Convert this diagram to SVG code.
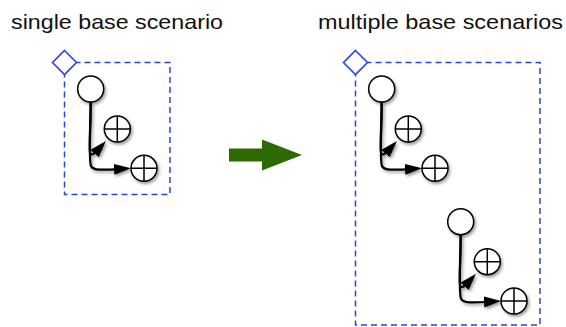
<svg xmlns="http://www.w3.org/2000/svg" width="566" height="327" viewBox="0 0 566 327">
  <style>
    .title { font-family: "Liberation Sans", Arial, sans-serif; font-size: 21px; fill: #111; }
    .frame { fill: none; stroke: #2a44e2; stroke-width: 1.5; stroke-dasharray: 6 4; }
    .diamond { fill: #fff; stroke: #2a44e2; stroke-width: 1.6; }
    .node { fill: #fff; stroke: #000; stroke-width: 1.5; }
    .cross { stroke: #000; stroke-width: 1.5; fill: none; }
    .edge { fill: none; stroke: #000; stroke-width: 2.2; }
  </style>
  <defs>
    <filter id="shadow" x="-30%" y="-30%" width="170%" height="170%">
      <feDropShadow dx="1.5" dy="2" stdDeviation="1.5" flood-color="#000" flood-opacity="0.4"/>
    </filter>
    <marker id="arrow" markerUnits="userSpaceOnUse" markerWidth="20" markerHeight="14" refX="13" refY="5.5" orient="auto">
      <path d="M0,0 L17,5.5 L0,11 z" fill="#000"/>
    </marker>
  </defs>

  <text class="title" x="11" y="29" textLength="212" lengthAdjust="spacingAndGlyphs">single base scenario</text>
  <text class="title" x="318" y="29" textLength="245" lengthAdjust="spacingAndGlyphs">multiple base scenarios</text>

  <!-- frames -->
  <g id="frame-single">
    <rect class="frame" x="64.5" y="62.5" width="105.5" height="132"/>
    <polygon class="diamond" points="64.5,50.5 76.5,62.5 64.5,74.5 52.5,62.5"/>
  </g>
  <g id="frame-multiple">
    <rect class="frame" x="355.5" y="62.5" width="184.5" height="262.5"/>
    <polygon class="diamond" points="355.5,50.5 367.5,62.5 355.5,74.5 343.5,62.5"/>
  </g>

  <!-- big arrow -->
  <g id="transform-arrow">
    <polygon points="229,148.5 262,148.5 262,139.5 302,155 262,170.5 262,161.5 229,161.5" fill="#2e6a03"/>
  </g>

  <!-- connectors -->
  <g id="connectors" filter="url(#shadow)">
    <path class="edge" marker-end="url(#arrow)" d="M90.7,102 C90.6,125 89,146 90,152 C91,158 96,152 103.3,144"/>
    <path class="edge" marker-end="url(#arrow)" d="M90.7,102 C90.6,130 88.5,160 91,166 C93,171 103,170 127,168.5"/>
    <path class="edge" marker-end="url(#arrow)" d="M381.7,102 C381.6,125 380,146 381,152 C382,158 387,152 394.3,144"/>
    <path class="edge" marker-end="url(#arrow)" d="M381.7,102 C381.6,130 379.5,160 382,166 C384,171 394,170 418,168.5"/>
    <path class="edge" marker-end="url(#arrow)" d="M460.7,234.7 C460.6,257.7 459,278.7 460,284.7 C461,290.7 466,284.7 473.3,276.7"/>
    <path class="edge" marker-end="url(#arrow)" d="M460.7,234.7 C460.6,262.7 458.5,292.7 461,298.7 C463,303.7 473,302.7 497,301.2"/>
  </g>

  <!-- nodes: single -->
  <g id="s-start" filter="url(#shadow)"><circle class="node" cx="90.7" cy="89" r="13"/></g>
  <g id="s-end1" filter="url(#shadow)"><circle class="node" cx="117.3" cy="129" r="13"/><path class="cross" d="M104.3,129 H130.3 M117.3,116 V142"/></g>
  <g id="s-end2" filter="url(#shadow)"><circle class="node" cx="144" cy="168.3" r="13"/><path class="cross" d="M131,168.3 H157 M144,155.3 V181.3"/></g>

  <!-- nodes: multiple, first -->
  <g id="m1-start" filter="url(#shadow)"><circle class="node" cx="381.7" cy="89" r="13"/></g>
  <g id="m1-end1" filter="url(#shadow)"><circle class="node" cx="408.3" cy="129" r="13"/><path class="cross" d="M395.3,129 H421.3 M408.3,116 V142"/></g>
  <g id="m1-end2" filter="url(#shadow)"><circle class="node" cx="435" cy="168.3" r="13"/><path class="cross" d="M422,168.3 H448 M435,155.3 V181.3"/></g>

  <!-- nodes: multiple, second -->
  <g id="m2-start" filter="url(#shadow)"><circle class="node" cx="460.7" cy="221.7" r="13"/></g>
  <g id="m2-end1" filter="url(#shadow)"><circle class="node" cx="487.3" cy="261.7" r="13"/><path class="cross" d="M474.3,261.7 H500.3 M487.3,248.7 V274.7"/></g>
  <g id="m2-end2" filter="url(#shadow)"><circle class="node" cx="514" cy="301" r="13"/><path class="cross" d="M501,301 H527 M514,288 V314"/></g>
</svg>
